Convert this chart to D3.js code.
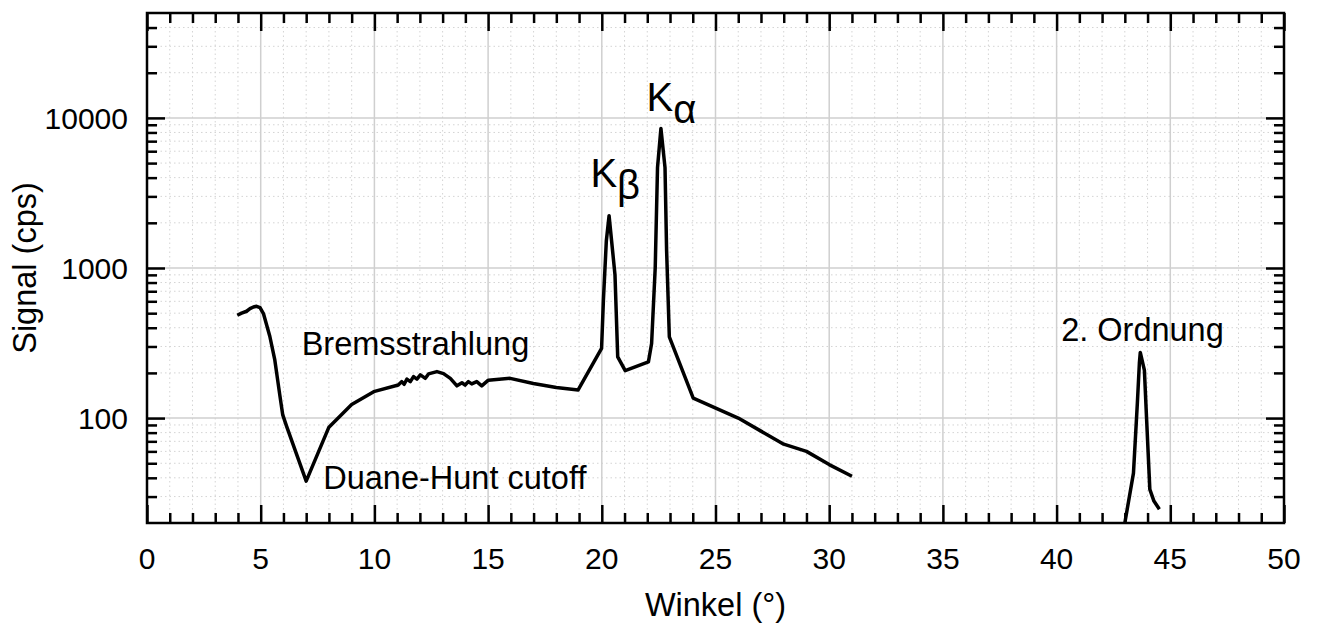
<!DOCTYPE html>
<html>
<head>
<meta charset="utf-8">
<script src="https://cdn.jsdelivr.net/npm/d3@7"></script>
<style>
  body { margin: 0; background: #fff; }
  text { font-family: Arial, "Liberation Sans", sans-serif; fill: #000; }
</style>
</head>
<body>
<div id="chart"></div>
<script>
// spectrum, first order (angle in degrees, signal in cps)
const winkel_1 = [3.97, 4.16, 4.38, 4.53, 4.68, 4.82, 4.97, 5.12, 5.4, 5.62, 5.85, 5.97, 6.14, 7.0,
    8.0, 9.0, 9.97, 11.05, 11.2, 11.31, 11.43, 11.58, 11.72, 11.87, 12.02, 12.24, 12.38, 12.75,
    13.04, 13.34, 13.63, 13.85, 13.99, 14.13, 14.28, 14.5, 14.72, 15.01, 15.97, 16.99, 18.0, 18.96,
    19.99, 20.07, 20.2, 20.32, 20.43, 20.58, 20.7, 21.03, 22.05, 22.19, 22.35, 22.45, 22.6, 22.78,
    22.85, 22.97, 24.02, 26.0, 28.0, 29.0, 30.0, 31.0];
const signal_1 = [484, 500, 515, 536, 550, 556, 545, 497, 351, 244, 139, 105, 88, 38,
    87, 123, 150, 166, 175, 168, 182, 175, 189, 182, 194, 184, 197, 204,
    198, 184, 164, 172, 166, 175, 169, 175, 164, 179, 184, 170, 160, 154,
    291, 608, 1520, 2228, 1520, 900, 256, 207, 237, 314, 1012, 4660, 8500, 4660,
    1306, 348, 136, 100, 67, 60, 49, 41];

// second order peak
const winkel_2 = [43.0, 43.38, 43.55, 43.64, 43.68, 43.86, 43.96, 44.1, 44.28, 44.52];
const signal_2 = [20, 43, 125, 232, 274, 209, 97, 33.5, 28, 24.7];

const x_ticks = [0, 5, 10, 15, 20, 25, 30, 35, 40, 45, 50];
const y_ticks = [100, 1000, 10000];
const x_domain = [0, 50];
const y_domain = [20, 50000];

const annotations = [
    {label: 'Bremsstrahlung', x: 6.8, y: 263},
    {label: 'Duane-Hunt cutoff', x: 7.75, y: 33.5},
    {label: '2. Ordnung', x: 40.2, y: 326}
];

const width = 1317, height = 628;
const margin = {top: 13, right: 33, bottom: 105, left: 147};
const plot_w = width - margin.left - margin.right;
const plot_h = height - margin.top - margin.bottom;

let svg = d3.select('#chart').append('svg')
    .attr('width', width)
    .attr('height', height);

let x = d3.scaleLinear().domain(x_domain).range([0, plot_w]);
let y = d3.scaleLog().domain(y_domain).range([plot_h, 0]);

let g = svg.append('g').attr('transform', 'translate(' + margin.left + ',' + margin.top + ')');

// minor values
const x_minor = d3.range(1, 50).filter(d => d % 5 !== 0);
let y_minor = [];
[10, 100, 1000, 10000].forEach(function (dec) {
    for (let k = 2; k <= 9; k++) {
        let v = k * dec;
        if (v > y_domain[0] && v < y_domain[1]) y_minor.push(v);
    }
});

// grid
g.append('g').selectAll('line').data(x_minor).join('line')
    .attr('x1', d => x(d)).attr('x2', d => x(d))
    .attr('y1', 0).attr('y2', plot_h)
    .attr('stroke', '#d4d4d4').attr('stroke-width', 1).attr('stroke-dasharray', '1.5,3');
g.append('g').selectAll('line').data(y_minor).join('line')
    .attr('y1', d => y(d)).attr('y2', d => y(d))
    .attr('x1', 0).attr('x2', plot_w)
    .attr('stroke', '#d4d4d4').attr('stroke-width', 1).attr('stroke-dasharray', '1.5,3');
g.append('g').selectAll('line').data(x_ticks.slice(1, -1)).join('line')
    .attr('x1', d => x(d)).attr('x2', d => x(d))
    .attr('y1', 0).attr('y2', plot_h)
    .attr('stroke', '#cfcfcf').attr('stroke-width', 1.5);
g.append('g').selectAll('line').data(y_ticks).join('line')
    .attr('y1', d => y(d)).attr('y2', d => y(d))
    .attr('x1', 0).attr('x2', plot_w)
    .attr('stroke', '#cfcfcf').attr('stroke-width', 1.5);

// axes, ticks pointing inwards
const major_len = 18, minor_len = 10;
function style_axis(sel) {
    sel.select('.domain').remove();
    sel.selectAll('line').attr('stroke', '#000').attr('stroke-width', 2.5);
    sel.selectAll('text').remove();
}
g.append('g').attr('transform', 'translate(0,' + plot_h + ')')
    .call(d3.axisBottom(x).tickValues(x_minor).tickSize(-minor_len)).call(style_axis);
g.append('g').attr('transform', 'translate(0,' + plot_h + ')')
    .call(d3.axisBottom(x).tickValues(x_ticks).tickSize(-major_len)).call(style_axis);
g.append('g')
    .call(d3.axisTop(x).tickValues(x_minor).tickSize(-minor_len)).call(style_axis);
g.append('g')
    .call(d3.axisTop(x).tickValues(x_ticks).tickSize(-major_len)).call(style_axis);
g.append('g')
    .call(d3.axisLeft(y).tickValues(y_minor).tickSize(-minor_len)).call(style_axis);
g.append('g')
    .call(d3.axisLeft(y).tickValues(y_ticks).tickSize(-major_len)).call(style_axis);
g.append('g').attr('transform', 'translate(' + plot_w + ',0)')
    .call(d3.axisRight(y).tickValues(y_minor).tickSize(-minor_len)).call(style_axis);
g.append('g').attr('transform', 'translate(' + plot_w + ',0)')
    .call(d3.axisRight(y).tickValues(y_ticks).tickSize(-major_len)).call(style_axis);

// frame
g.append('rect')
    .attr('width', plot_w).attr('height', plot_h)
    .attr('fill', 'none')
    .attr('stroke', '#000')
    .attr('stroke-width', 2.5);

// tick labels
g.append('g').selectAll('text').data(x_ticks).join('text')
    .attr('x', d => x(d))
    .attr('y', plot_h + 46)
    .attr('text-anchor', 'middle')
    .style('font-size', '30px')
    .text(d => d);
g.append('g').selectAll('text').data(y_ticks).join('text')
    .attr('x', -19)
    .attr('y', d => y(d) + 11)
    .attr('text-anchor', 'end')
    .style('font-size', '30px')
    .text(d => d);

// axis titles
svg.append('text')
    .attr('x', margin.left + plot_w / 2)
    .attr('y', 616)
    .attr('text-anchor', 'middle')
    .style('font-size', '32.5px')
    .text('Winkel (°)');
svg.append('text')
    .attr('transform', 'translate(36,' + (margin.top + y(1000)) + ') rotate(-90)')
    .attr('text-anchor', 'middle')
    .style('font-size', '32.5px')
    .text('Signal (cps)');

// curves
svg.append('clipPath').attr('id', 'plot_clip').append('rect')
    .attr('width', plot_w).attr('height', plot_h);

let line = d3.line()
    .x(d => x(d[0]))
    .y(d => y(d[1]));

[[winkel_1, signal_1], [winkel_2, signal_2]].forEach(function (series) {
    g.append('path')
        .datum(d3.zip(series[0], series[1]))
        .attr('clip-path', 'url(#plot_clip)')
        .attr('fill', 'none')
        .attr('stroke', '#000')
        .attr('stroke-width', 3.5)
        .attr('stroke-linejoin', 'round')
        .attr('d', line);
});

// annotations
annotations.forEach(function (a) {
    g.append('text')
        .attr('x', x(a.x))
        .attr('y', y(a.y))
        .style('font-size', '32.5px')
        .text(a.label);
});

// K lines with greek subscripts
let k_labels = [
    {main: 'K', sub: 'β', x: 19.5, y: 3440},
    {main: 'K', sub: 'α', x: 21.97, y: 11100}
];
k_labels.forEach(function (k) {
    let t = g.append('text')
        .attr('x', x(k.x))
        .attr('y', y(k.y))
        .style('font-size', '40px');
    t.append('tspan').text(k.main);
    t.append('tspan').attr('dy', 12).text(k.sub);
});
</script>
</body>
</html>
